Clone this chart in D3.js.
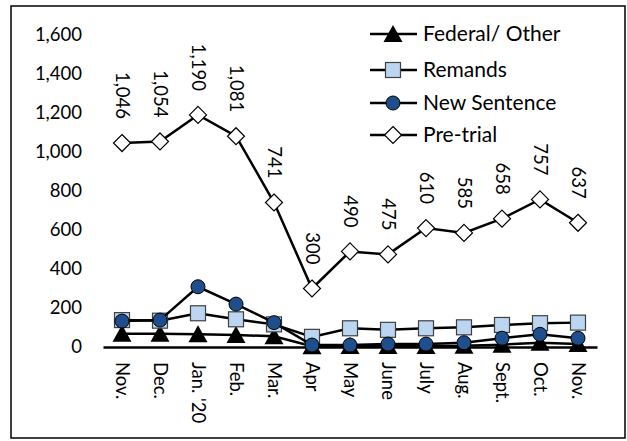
<!DOCTYPE html>
<html>
<head>
<meta charset="utf-8">
<script src="https://cdn.jsdelivr.net/npm/d3@7"></script>
<style>
  body { margin: 0; background: #fff; }
  text { font-family: Lato, "Open Sans", sans-serif; fill: #000; }
</style>
</head>
<body>
<div id="chart"></div>
<script>
(function () {

    // months along the x axis
    var months = ["Nov.", "Dec.", "Jan. '20", "Feb.", "Mar.", "Apr", "May", "June", "July", "Aug.", "Sept.", "Oct.", "Nov."];

    // series values
    var federal = [68, 68, 66, 62, 55, 4, 5, 5, 5, 6, 12, 22, 15];
    var remands = [138, 135, 173, 142, 116, 52, 96, 88, 96, 101, 113, 122, 125];
    var newSentence = [133, 138, 309, 220, 125, 10, 10, 15, 15, 22, 45, 65, 45];
    var pretrial = [1046, 1054, 1190, 1081, 741, 300, 490, 475, 610, 585, 658, 757, 637];

    var yTicks = [0, 200, 400, 600, 800, 1000, 1200, 1400, 1600];

    var W = 627, H = 441;
    var margin = { top: 35, right: 30, bottom: 94, left: 103 },
        width = W - margin.left - margin.right,
        height = H - margin.top - margin.bottom;

    var root = d3.select("#chart")
        .append("svg")
        .attr("width", W)
        .attr("height", H);

    // outer frame
    root.append("rect")
        .attr("x", 11).attr("y", 6)
        .attr("width", 614).attr("height", 432)
        .attr("fill", "none")
        .attr("stroke", "#000")
        .attr("stroke-width", 1.5);

    var svg = root.append("g")
        .attr("transform", "translate(" + margin.left + "," + margin.top + ")");

    var x = d3.scaleBand()
        .domain(d3.range(months.length))
        .range([0, width]);

    var y = d3.scaleLinear()
        .domain([0, 1600])
        .range([height, 0]);

    var cx = function (i) { return x(i) + x.bandwidth() / 2; };

    // y axis labels only
    var yAxis = svg.append("g")
        .call(d3.axisLeft(y).tickValues(yTicks).tickSize(0).tickPadding(21).tickFormat(d3.format(",")));
    yAxis.select(".domain").remove();
    yAxis.selectAll("text").style("font-size", "18.5px").attr("fill", "#000");

    // x axis
    var xAxis = svg.append("g")
        .attr("transform", "translate(0," + height + ")")
        .call(d3.axisBottom(x).tickSize(0).tickFormat(function (i) { return months[i]; }));
    xAxis.select(".domain").attr("stroke", "#000").attr("stroke-width", 2.5);
    xAxis.selectAll("text")
        .style("font-size", "18.5px")
        .attr("fill", "#000")
        .attr("text-anchor", "start")
        .attr("dy", "0.35em")
        .attr("x", 0)
        .attr("y", 0)
        .attr("transform", "translate(0,15) rotate(90)");

    var line = d3.line()
        .x(function (d, i) { return cx(i); })
        .y(function (d) { return y(d); });

    var series = [
        { name: "Federal/ Other", values: federal, shape: "triangle" },
        { name: "Remands", values: remands, shape: "square" },
        { name: "New Sentence", values: newSentence, shape: "circle" },
        { name: "Pre-trial", values: pretrial, shape: "diamond" }
    ];

    function drawMarker(g, shape, px, py) {
        if (shape === "triangle") {
            g.append("path")
                .attr("d", "M" + px + "," + (py - 9) + "L" + (px + 9.5) + "," + (py + 8) + "L" + (px - 9.5) + "," + (py + 8) + "Z")
                .attr("fill", "#000");
        } else if (shape === "square") {
            g.append("rect")
                .attr("x", px - 7.5).attr("y", py - 7.5)
                .attr("width", 15).attr("height", 15)
                .attr("fill", "#bcd5f0")
                .attr("stroke", "#404040")
                .attr("stroke-width", 1.2);
        } else if (shape === "circle") {
            g.append("circle")
                .attr("cx", px).attr("cy", py).attr("r", 7)
                .attr("fill", "#1f4e8c")
                .attr("stroke", "#000")
                .attr("stroke-width", 1);
        } else {
            g.append("path")
                .attr("d", "M" + px + "," + (py - 8.5) + "L" + (px + 8.5) + "," + py + "L" + px + "," + (py + 8.5) + "L" + (px - 8.5) + "," + py + "Z")
                .attr("fill", "#fff")
                .attr("stroke", "#000")
                .attr("stroke-width", 1.2);
        }
    }

    series.forEach(function (s) {
        var g = svg.append("g");
        g.append("path")
            .datum(s.values)
            .attr("d", line)
            .attr("fill", "none")
            .attr("stroke", "#000")
            .attr("stroke-width", 2.5);
        s.values.forEach(function (v, i) {
            drawMarker(g, s.shape, cx(i), y(v));
        });
    });

    // data labels on pre-trial
    svg.selectAll(".lbl")
        .data(pretrial)
        .enter()
        .append("text")
        .attr("class", "lbl")
        .style("font-size", "18.5px")
        .attr("text-anchor", "end")
        .attr("dy", "0.35em")
        .attr("transform", function (d, i) {
            return "translate(" + cx(i) + "," + (y(d) - 24) + ") rotate(90)";
        })
        .text(function (d) { return d3.format(",")(d); });

    // legend
    var legend = root.append("g");
    var legendY = [34, 70, 103, 135];
    series.forEach(function (s, k) {
        var ly = legendY[k];
        legend.append("line")
            .attr("x1", 370).attr("x2", 417)
            .attr("y1", ly).attr("y2", ly)
            .attr("stroke", "#000")
            .attr("stroke-width", 2.5);
        drawMarker(legend, s.shape, 393, ly);
        legend.append("text")
            .attr("x", 423).attr("y", ly)
            .attr("dy", "0.35em")
            .style("font-size", "21px")
            .text(s.name);
    });

})();
</script>
</body>
</html>
